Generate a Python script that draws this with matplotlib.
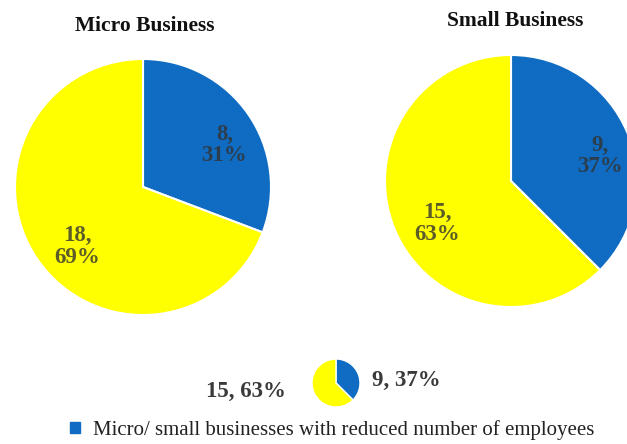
import matplotlib.pyplot as plt
from matplotlib.patches import Patch

plt.rcParams['font.family'] = ['Liberation Serif', 'DejaVu Serif']

# employees reduced vs not, per business size
micro_counts = [8, 18]
micro_pct = [31, 69]
small_counts = [9, 15]
small_pct = [37, 63]
total_counts = [9, 15]
total_pct = [37, 63]
legend_label = "Micro/ small businesses with reduced number of employees"

blue = '#0f6cc2'
yellow = '#ffff00'
lbl_color = (0.2, 0.2, 0.2, 0.8)

W, H = 627, 444
fig = plt.figure(figsize=(W / 100, H / 100), dpi=100)


def pie_axes(cx, cy, r):
    # axes box in pixels -> figure fraction, centre measured from the top
    ax = fig.add_axes([(cx - r) / W, (H - cy - r) / H, 2 * r / W, 2 * r / H])
    ax.axis('off')
    return ax


def big_pie(ax, counts, pcts):
    labels = iter(f"{c},\n{p}%" for c, p in zip(counts, pcts))
    _, _, autotexts = ax.pie(
        counts, colors=[blue, yellow], startangle=90, counterclock=False,
        radius=1, frame=False,
        wedgeprops=dict(edgecolor='white', linewidth=1.5),
        autopct=lambda p: next(labels), pctdistance=0.7,
        textprops=dict(color=lbl_color, fontsize=16.5, fontweight='bold',
                       linespacing=1.05))
    # labels sit a little lower/right than the default spot
    for t in autotexts:
        x, y = t.get_position()
        t.set_position((x + 0.06, y - 0.07))
    ax.set_xlim(-1, 1)
    ax.set_ylim(-1, 1)


ax1 = pie_axes(143, 187, 128)
big_pie(ax1, micro_counts, micro_pct)
fig.text(145 / W, 1 - 26 / H, "Micro Business", ha='center', va='center',
         fontsize=15.5, fontweight='bold', color='#111111')

ax2 = pie_axes(511, 181, 126)
big_pie(ax2, small_counts, small_pct)
fig.text(515 / W, 1 - 21 / H, "Small Business", ha='center', va='center',
         fontsize=15.5, fontweight='bold', color='#111111')

# small summary pie
ax3 = pie_axes(336, 383, 24)
ax3.pie(total_counts, colors=[blue, yellow], startangle=90, counterclock=False,
        radius=1, frame=False, wedgeprops=dict(edgecolor='white', linewidth=1))
ax3.set_xlim(-1, 1)
ax3.set_ylim(-1, 1)
ax3.text(1.5, 0.12, f"{total_counts[0]}, {total_pct[0]}%",
         ha='left', va='center', fontsize=16.5, fontweight='bold', color='#3a3a3a')
ax3.text(-2.1, -0.37, f"{total_counts[1]}, {total_pct[1]}%",
         ha='right', va='center', fontsize=16.5, fontweight='bold', color='#3a3a3a')

fig.legend(handles=[Patch(facecolor=blue, edgecolor=blue)], labels=[legend_label],
           loc='center left', bbox_to_anchor=(70 / W, 1 - 430 / H), frameon=False,
           borderpad=0, borderaxespad=0,
           fontsize=15, handlelength=0.5, handleheight=0.5, handletextpad=0.6,
           labelcolor='#222222')

fig.savefig('out.png', dpi=100)
